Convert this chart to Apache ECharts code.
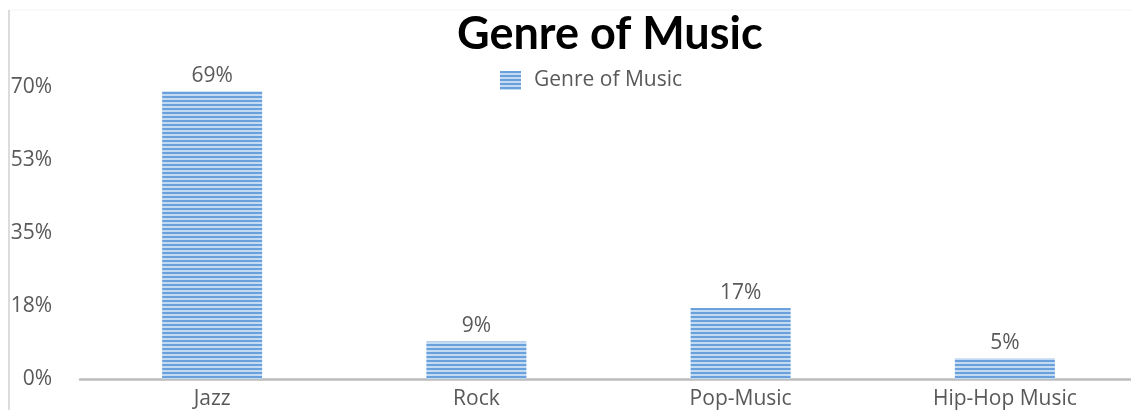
<!DOCTYPE html>
<html>
<head>
<meta charset="utf-8">
<script src="https://cdn.jsdelivr.net/npm/echarts@6/dist/echarts.min.js"></script>
<style>html,body{margin:0;padding:0;background:#fff;overflow:hidden;width:1131px;height:410px}#c{width:1140px;height:410px}</style>
</head>
<body>
<div id="c"></div>
<script>
const categories = ['Jazz', 'Rock', 'Pop-Music', 'Hip-Hop Music'];
const values = [69, 9, 17, 5];
const seriesName = 'Genre of Music';
const titleText = 'Genre of Music';

function stripes() {
  const cv = document.createElement('canvas');
  cv.width = 8; cv.height = 4;
  const ctx = cv.getContext('2d');
  ctx.fillStyle = '#c2daf2';
  ctx.fillRect(0, 0, 8, 4);
  ctx.fillStyle = '#6aa1dc';
  ctx.fillRect(0, 0, 8, 2);
  return cv;
}
const pattern = { image: stripes(), repeat: 'repeat' };
const font = 'Open Sans';

const chart = echarts.init(document.getElementById('c'), null, { renderer: 'canvas' });
chart.setOption({
  animation: false,
  backgroundColor: '#fff',
  title: {
    text: titleText, left: 452, top: 7,
    textStyle: { fontFamily: 'Lato', fontWeight: 'bold', fontSize: 45, color: '#000' }
  },
  legend: {
    data: [seriesName], left: 495, top: 65, itemWidth: 21, itemHeight: 19, itemGap: 13,
    icon: 'rect',
    textStyle: { fontFamily: font, fontSize: 21, color: '#595959', padding: [0, 0, 0, 8] }
  },
  grid: { left: 80, right: 3, top: 87, bottom: 31, containLabel: false },
  xAxis: {
    type: 'category', data: categories,
    axisLine: { lineStyle: { color: '#bcbcbc', width: 2.5 } },
    axisTick: { show: false },
    axisLabel: { fontFamily: font, fontSize: 21, color: '#595959', margin: 10 }
  },
  yAxis: {
    type: 'value', min: 0, max: 70, interval: 17.5,
    axisLine: { show: false }, axisTick: { show: false }, splitLine: { show: false },
    axisLabel: { fontFamily: font, fontSize: 21, color: '#595959', margin: 28,
      formatter: v => Math.round(v) + '%' }
  },
  graphic: [
    { type: 'line', shape: { x1: 9, y1: 10, x2: 9, y2: 410 }, style: { stroke: '#dcdcdc', lineWidth: 2 } },
    { type: 'line', shape: { x1: 10, y1: 10, x2: 1140, y2: 10 }, style: { stroke: '#f4f4f4', lineWidth: 1 } }
  ],
  series: [{
    name: seriesName, type: 'bar', data: values, barWidth: 100,
    itemStyle: { color: pattern },
    label: { show: true, position: 'top', distance: 5, formatter: p => p.value + '%',
      fontFamily: font, fontSize: 21, color: '#595959' }
  }]
});
</script>
</body>
</html>
